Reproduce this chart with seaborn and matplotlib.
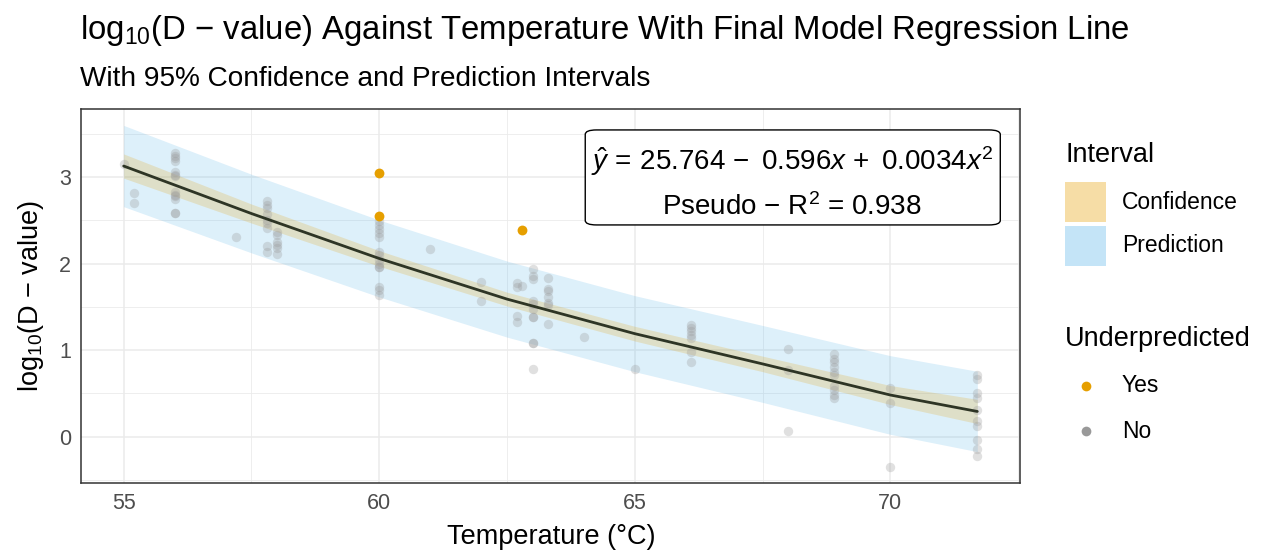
import numpy as np
import pandas as pd
import matplotlib
matplotlib.use("Agg")
import matplotlib.pyplot as plt
import seaborn as sns
from matplotlib.patches import FancyBboxPatch, Rectangle
from matplotlib.lines import Line2D
from matplotlib.ticker import MultipleLocator

# ---------------- data ----------------
# observed points not underpredicted (temperature, log10 D-value)
no_temp = ([55.0] + [55.2] * 2 + [56.0] * 13 + [57.2] + [57.8] * 9 + [58.0] * 6
           + [60.0] * 14 + [61.0] + [62.0] * 2 + [62.7] * 4 + [62.8] + [63.0] * 11
           + [63.3] * 7 + [64.0] + [65.0] + [66.1] * 7 + [68.0] * 3 + [68.9] * 10
           + [70.0] * 3 + [71.7] * 10)
no_logd = ([3.155]
           + [2.82, 2.70]
           + [3.28, 3.25, 3.22, 3.19, 3.06, 3.03, 3.01, 2.83, 2.80, 2.78, 2.75, 2.59, 2.59]
           + [2.31]
           + [2.72, 2.68, 2.64, 2.58, 2.51, 2.47, 2.41, 2.20, 2.14]
           + [2.37, 2.33, 2.25, 2.22, 2.18, 2.11]
           + [2.49, 2.45, 2.40, 2.36, 2.31, 2.14, 2.10, 2.04, 2.00, 1.96, 1.96, 1.73, 1.69, 1.64]
           + [2.17]
           + [1.79, 1.57]
           + [1.78, 1.73, 1.39, 1.33]
           + [1.74]
           + [1.935, 1.857, 1.82, 1.57, 1.53, 1.47, 1.386, 1.386, 1.085, 1.085, 0.78]
           + [1.84, 1.71, 1.68, 1.61, 1.55, 1.52, 1.30]
           + [1.147]
           + [0.776]
           + [1.29, 1.26, 1.22, 1.18, 1.14, 0.98, 0.86]
           + [1.01, 0.77, 0.06]
           + [0.96, 0.90, 0.86, 0.81, 0.75, 0.71, 0.59, 0.54, 0.48, 0.44]
           + [0.556, 0.39, -0.35]
           + [0.71, 0.66, 0.50, 0.44, 0.31, 0.18, 0.12, -0.04, -0.15, -0.22])

# underpredicted points
yes_temp = [60.0, 60.0, 62.8]
yes_logd = [3.05, 2.556, 2.387]

# fitted regression line and intervals
fit_temp = [55.0, 57.5, 60.0, 62.5, 65.0, 67.5, 70.0, 71.7]
fit_logd = [3.13, 2.58, 2.06, 1.59, 1.19, 0.84, 0.48, 0.29]
ci_half = [0.14, 0.11, 0.09, 0.08, 0.085, 0.09, 0.11, 0.14]
pi_half = [0.47, 0.455, 0.445, 0.44, 0.44, 0.445, 0.455, 0.465]

x_ticks = [55, 60, 65, 70]
y_ticks = [0, 1, 2, 3]

title_txt = r"log$_{10}$(D $-$ value) Against Temperature With Final Model Regression Line"
subtitle_txt = "With 95% Confidence and Prediction Intervals"
xlab = "Temperature (°C)"
ylab = r"log$_{10}$(D $-$ value)"
eq_txt = r"$\hat{y}\,=\,25.764\,-\ 0.596x\,+\ 0.0034x^{2}$"
r2_txt = r"Pseudo $-$ R$^{2}$ = 0.938"

# ---------------- style ----------------
sns.set_style("white")
FONT = "Liberation Sans"
plt.rcParams["font.family"] = [FONT, "DejaVu Sans"]
plt.rcParams["mathtext.fontset"] = "custom"
plt.rcParams["mathtext.rm"] = FONT
plt.rcParams["mathtext.it"] = FONT + ":italic"
plt.rcParams["mathtext.bf"] = FONT + ":bold"
plt.rcParams["text.color"] = "black"

ORANGE = "#E69F00"
BLUE = "#56B4E9"
GREY = "#999999"

W, H = 1266, 552
fig = plt.figure(figsize=(W / 100, H / 100), dpi=100)
ax = fig.add_axes([81 / W, 1 - 483 / H, (1020 - 81) / W, (483 - 109) / H])

fx = np.array(fit_temp)
fy = np.array(fit_logd)
ci = np.array(ci_half)
pi = np.array(pi_half)

ax.fill_between(fx, fy - pi, fy + pi, color=BLUE, alpha=0.2, lw=0, zorder=2)
ax.fill_between(fx, fy - ci, fy + ci, color=ORANGE, alpha=0.2, lw=0, zorder=3)

df_no = pd.DataFrame({"Temperature": no_temp, "logD": no_logd})
df_yes = pd.DataFrame({"Temperature": yes_temp, "logD": yes_logd})
sns.scatterplot(data=df_no, x="Temperature", y="logD", color=GREY, alpha=0.3,
                s=46, linewidth=0, ax=ax, zorder=4, legend=False)
sns.scatterplot(data=df_yes, x="Temperature", y="logD", color=ORANGE, alpha=1,
                s=50, linewidth=0, ax=ax, zorder=5, legend=False)
df_fit = pd.DataFrame({"Temperature": fit_temp, "logD": fit_logd})
sns.lineplot(data=df_fit, x="Temperature", y="logD", color="#2E3525", lw=2,
             ax=ax, zorder=6, estimator=None, sort=True)

ax.set_xlim(54.165, 72.535)
ax.set_ylim(-0.538, 3.79)
ax.set_xticks(x_ticks)
ax.set_yticks(y_ticks)
ax.xaxis.set_minor_locator(MultipleLocator(2.5))
ax.yaxis.set_minor_locator(MultipleLocator(0.5))
ax.grid(which="major", color="#EBEBEB", lw=1.1, zorder=0)
ax.grid(which="minor", color="#EBEBEB", lw=0.6, zorder=0)
ax.set_axisbelow(True)
ax.tick_params(which="major", length=4, width=1, color="#333333",
               labelcolor="#4D4D4D", labelsize=15.5, pad=3)
ax.tick_params(which="minor", length=0)
for sp in ax.spines.values():
    sp.set_color("#333333")
    sp.set_linewidth(1.1)
ax.set_xlabel("")
ax.set_ylabel("")

# axis titles
fig.text(551 / W, 1 - 537 / H, xlab, ha="center", va="center", fontsize=19.5)
fig.text(31 / W, 1 - 296 / H, ylab, ha="center", va="center", fontsize=19.5, rotation=90)

# titles
fig.text(80 / W, 1 - 30 / H, title_txt, ha="left", va="center", fontsize=23.7)
fig.text(80 / W, 1 - 79 / H, subtitle_txt, ha="left", va="center", fontsize=20.2)

# annotation box
box = FancyBboxPatch((0.537, 0.690), 0.442, 0.254, transform=ax.transAxes,
                     boxstyle="round,pad=0,rounding_size=0.012",
                     facecolor="white", edgecolor="black", lw=1, zorder=8)
ax.add_patch(box)
ax.text(0.757, 0.862, eq_txt, transform=ax.transAxes, ha="center", va="center",
        fontsize=20, zorder=9)
ax.text(0.757, 0.737, r2_txt, transform=ax.transAxes, ha="center", va="center",
        fontsize=20, zorder=9)

# legend (manual)
fig.text(1065 / W, 1 - 155 / H, "Interval", ha="left", va="center", fontsize=19.5)
for i, (lab, col) in enumerate([("Confidence", ORANGE), ("Prediction", BLUE)]):
    yc = 202 + i * 44
    fig.patches.append(Rectangle((1065 / W, 1 - (yc + 20) / H), 41 / W, 40 / H,
                                 transform=fig.transFigure, facecolor=col,
                                 alpha=0.35, lw=0))
    fig.text(1122 / W, 1 - yc / H, lab, ha="left", va="center", fontsize=16.5)

fig.text(1065 / W, 1 - 339 / H, "Underpredicted", ha="left", va="center", fontsize=19.5)
for i, (lab, col) in enumerate([("Yes", ORANGE), ("No", GREY)]):
    yc = 386 + i * 45
    fig.add_artist(Line2D([1085.5 / W], [1 - yc / H], transform=fig.transFigure,
                          marker="o", markersize=7, color=col, lw=0, mew=0))
    fig.text(1122 / W, 1 - yc / H, lab, ha="left", va="center", fontsize=16.5)

fig.savefig("out.png", dpi=100)
